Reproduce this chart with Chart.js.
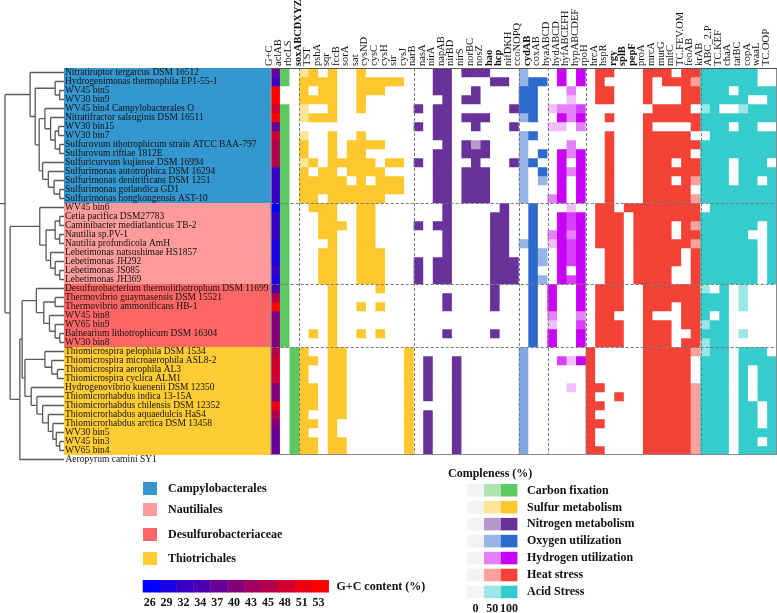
<!DOCTYPE html>
<html>
<head>
<meta charset="utf-8">
<script src="https://cdn.jsdelivr.net/npm/chart.js@4.4.0/dist/chart.umd.min.js"></script>
<style>
  html, body { margin: 0; padding: 0; background: #fff; }
  #wrap { width: 777px; height: 613px; position: relative; }
</style>
</head>
<body>
<div id="wrap"><canvas id="heat"></canvas></div>
<script>
// ---- data ----
const taxa = [
  'Nitratiruptor tergarcus DSM 16512', 'Hydrogenimonas thermophila EP1-55-1', 'WV45 bin5', 'WV30 bin9',
  'WV45 bin4 Campylobacterales O', 'Nitratifractor salsuginis DSM 16511', 'WV30 bin15', 'WV30 bin7',
  'Sulfurovum ithotrophicum strain ATCC BAA-797', 'Sulfurovum riftiae 1812E', 'Sulfuricurvum kujiense DSM 16994',
  'Sulfurimonas autotrophica DSM 16294', 'Sulfurimonas denitrificans DSM 1251', 'Sulfurimonas gotlandica GD1',
  'Sulfurimonas hongkongensis AST-10',
  'WV45 bin6', 'Cetia pacifica DSM27783', 'Caminibacter mediatlanticus TB-2', 'Nautilia sp.PV-1',
  'Nautilia profundicola AmH', 'Lebetimonas natsushimae HS1857', 'Lebetimonas JH292', 'Lebetimonas JS085',
  'Lebetimonas JH369',
  'Desulfurobacterium thermolithotrophum DSM 11699', 'Thermovibrio guaymasensis DSM 15521',
  'Thermovibrio ammonificans HB-1', 'WV45 bin8', 'WV65 bin9', 'Balnearium lithotrophicum DSM 16304', 'WV30 bin8',
  'Thiomicrospira pelophila DSM 1534', 'Thiomicrospira microaerophila ASL8-2', 'Thiomicrospira aerophila AL3',
  'Thiomicrospira cyclica ALM1', 'Hydrogenovibrio kuenenii DSM 12350', 'Thiomicrorhabdus indica 13-15A',
  'Thiomicrorhabdus chilensis DSM 12352', 'Thiomicrorhabdus aquaedulcis HaS4', 'Thiomicrorhabdus arctica DSM 13458',
  'WV30 bin5', 'WV45 bin3', 'WV65 bin4'
];
const outgroup = 'Aeropyrum camini SY1';

const groups = ['Campylobacterales', 'Nautiliales', 'Desulfurobacteriaceae', 'Thiotrichales'];
const groupSizes = [15, 9, 7, 12];

const gcContent = [37, 32, 53, 53, 48, 53, 37, 48, 45, 45, 45, 32, 32, 32, 32,
  26, 32, 32, 32, 29, 29, 29, 32, 29,
  34, 45, 53, 40, 40, 40, 40,
  45, 48, 48, 48, 40, 40, 51, 45, 40, 37, 37, 37];
const gcTicks = [26, 29, 32, 34, 37, 40, 43, 45, 48, 51, 53];

const carbonGenes = ['aclAB', 'rbcLS'];
const sulfurGenes = ['soxABCDXYZ', 'TST', 'pshA', 'sqr', 'fccB', 'sorA', 'sat', 'cysND', 'cysC', 'cysH', 'sir', 'cysJ'];
const nitrogenGenes = ['narB', 'nasA', 'nirA', 'napAB', 'nirBD', 'nirS', 'norBC', 'nosZ', 'hao', 'hcp', 'nifDKH'];
const oxygenGenes = ['ccoNOPQ', 'cydAB', 'coxAB'];
const hydrogenGenes = ['hyaABCD', 'hydABCD', 'hyfABCEFH', 'hypABCDEF'];
const heatGenes = ['rpoH', 'hrcA', 'hspR', 'rgy', 'splB', 'pepF', 'proA', 'mrcA', 'murG', 'mltC', 'TC.FEV.OM', 'feoAB'];
const acidGenes = ['krAB', 'ABC_2.P', 'TC.KEF', 'chaA', 'tatBC', 'copA', 'waaL', 'TC.OOP'];
const boldGenes = ['soxABCDXYZ', 'cydAB', 'hao', 'hcp', 'rgy', 'splB', 'pepF'];

// completeness (%) per taxon, one row per taxon
const carbonFixation = [
  [100,0],[100,0],[0,0],[0,0],[100,0],[100,0],[100,0],[100,0],[100,0],[100,0],[100,0],[100,0],[100,0],[100,0],[100,0],
  [100,0],[100,0],[100,0],[100,0],[100,0],[100,0],[100,0],[100,0],[100,0],
  [100,0],[100,0],[100,0],[100,0],[100,0],[100,0],[100,0],
  [0,100],[0,100],[0,100],[0,100],[0,100],[0,100],[0,100],[0,100],[0,100],[0,100],[0,100],[0,100]
];
const sulfurMetabolism = [
  [50,100,0,100,0,0,100,0,0,0,0,0],
  [100,100,100,100,0,0,100,100,100,100,100,0],
  [100,0,100,100,0,0,100,100,100,0,0,0],
  [100,100,100,100,0,0,100,0,0,0,0,0],
  [50,0,0,100,0,0,100,0,0,0,0,0],
  [50,100,100,100,0,0,0,0,0,0,0,0],
  [0,0,0,0,0,0,0,0,0,0,0,0],
  [50,0,0,100,0,0,100,0,0,0,0,0],
  [100,0,0,100,0,100,100,100,100,0,0,0],
  [100,0,0,100,0,100,100,0,0,0,0,0],
  [50,100,0,100,100,100,100,100,0,100,100,0],
  [100,0,100,100,0,100,100,100,100,0,0,0],
  [100,100,100,100,100,0,100,0,100,100,100,0],
  [100,100,100,100,100,100,100,100,100,100,100,0],
  [100,100,0,100,100,100,100,100,100,0,0,0],
  [0,100,100,100,0,0,100,100,0,0,0,0],
  [0,0,100,100,0,0,100,100,0,0,0,0],
  [0,0,100,100,100,0,100,100,0,0,0,0],
  [0,0,100,100,0,0,100,100,0,0,0,0],
  [0,0,0,100,0,0,100,100,0,0,0,0],
  [0,0,100,100,0,0,100,100,100,0,0,0],
  [0,0,100,100,0,0,100,100,100,0,0,0],
  [0,0,100,100,0,0,100,100,100,0,0,0],
  [0,0,100,100,0,0,100,100,100,0,0,0],
  [0,0,0,100,0,0,0,0,100,0,0,0],
  [0,0,0,100,0,0,0,0,0,0,0,0],
  [0,0,0,100,0,0,100,0,100,0,0,0],
  [0,0,0,100,0,0,0,0,0,0,0,0],
  [0,0,0,100,0,0,0,0,0,0,0,0],
  [0,100,0,100,0,0,100,0,100,0,0,0],
  [0,0,0,100,0,0,0,0,0,0,0,0],
  [100,0,0,100,100,0,0,0,0,0,0,100],
  [100,100,0,100,100,0,0,0,0,0,0,100],
  [100,0,0,100,100,0,0,0,0,0,0,100],
  [100,0,0,100,100,0,0,0,0,0,0,100],
  [100,100,0,100,100,0,0,0,0,0,0,100],
  [100,100,0,100,100,0,0,0,0,0,0,100],
  [100,100,0,100,100,0,0,0,0,0,0,100],
  [100,0,0,100,100,0,0,0,0,0,0,100],
  [100,100,0,100,0,0,0,0,0,0,0,100],
  [100,0,0,100,0,0,0,0,0,0,0,100],
  [100,100,0,100,100,0,0,0,0,0,0,100],
  [100,100,0,100,100,0,0,0,0,0,0,100]
];
const nitrogenMetabolism = [
  [0,0,100,100,0,100,100,100,0,0,0],
  [0,0,100,100,0,0,0,0,100,100,0],
  [0,0,100,100,0,0,100,0,0,0,0],
  [0,0,0,100,0,100,100,0,0,0,0],
  [100,0,100,100,0,0,0,0,0,0,100],
  [0,0,100,100,0,100,100,100,0,0,0],
  [100,0,100,100,0,0,100,0,0,0,100],
  [0,0,100,100,0,0,0,0,0,0,0],
  [0,0,0,100,0,100,50,100,0,0,0],
  [0,0,100,100,0,100,100,100,0,0,0],
  [100,0,100,100,0,0,100,0,0,0,100],
  [0,0,100,100,0,100,100,100,0,0,0],
  [0,0,100,100,0,100,100,100,0,0,0],
  [0,0,100,100,0,100,100,100,0,0,0],
  [0,0,100,100,0,100,100,100,0,0,0],
  [0,0,0,100,0,0,0,0,0,100,0],
  [0,0,0,100,0,0,0,0,100,100,0],
  [100,0,100,100,0,0,0,0,100,100,0],
  [0,0,0,100,0,0,0,0,100,100,0],
  [0,0,0,100,0,0,0,0,100,100,0],
  [0,0,0,100,0,0,0,0,100,100,0],
  [100,0,100,100,0,0,0,0,100,100,100],
  [100,0,100,100,0,0,0,0,100,100,100],
  [100,0,100,100,0,0,0,0,100,100,100],
  [0,0,0,0,0,0,0,0,100,0,0],
  [0,0,0,100,0,0,0,0,100,0,0],
  [0,0,0,100,0,0,0,0,100,0,0],
  [0,0,0,0,0,0,0,0,0,0,0],
  [0,0,0,0,0,0,0,0,0,0,0],
  [0,0,0,100,0,0,0,0,100,0,0],
  [0,0,0,0,0,0,0,0,0,0,0],
  [0,0,0,0,0,0,0,0,0,0,0],
  [0,100,0,0,100,0,0,0,0,0,0],
  [0,100,0,0,100,0,0,0,0,0,0],
  [0,100,0,0,100,0,0,0,0,0,0],
  [0,100,0,0,100,0,0,0,0,0,0],
  [0,100,0,0,100,0,0,0,0,0,0],
  [0,0,0,0,100,0,0,0,0,0,0],
  [0,100,0,0,100,0,0,0,0,0,0],
  [0,100,0,0,100,0,0,0,0,0,0],
  [0,100,0,0,100,0,0,0,0,0,0],
  [0,100,0,0,100,0,0,0,0,0,0],
  [0,100,0,0,100,0,0,0,0,0,0]
];
const oxygenUtilization = [
  [50,0,0],[50,100,100],[100,100,0],[100,100,0],[100,100,0],[50,100,0],[0,0,0],[50,100,0],
  [50,0,0],[50,0,100],[50,100,0],[50,0,100],[50,0,50],[50,0,0],[50,0,0],
  [0,100,0],[0,100,0],[0,100,0],[0,100,0],[50,100,0],[0,100,50],[0,100,50],[0,100,0],[0,100,50],
  [0,100,0],[0,100,0],[0,100,0],[0,100,0],[0,100,0],[0,100,0],[0,100,0],
  [60,0,0],[60,0,0],[60,0,0],[60,0,0],[60,0,0],[60,0,0],[60,0,0],[60,0,0],[60,0,0],[60,0,0],[60,0,0],[60,0,0]
];
const hydrogenUtilization = [
  [0,100,0,100],[0,100,0,100],[0,0,50,0],[0,0,25,0],[25,50,50,75],[0,100,50,100],[25,25,0,50],[0,0,0,0],
  [0,0,50,0],[0,100,50,100],[0,100,0,100],[0,100,50,100],[0,100,0,100],[0,100,0,100],[50,100,0,100],
  [0,0,25,0],[0,100,75,100],[0,100,75,100],[50,100,50,100],[25,100,75,100],[0,100,75,100],[0,100,75,100],
  [0,100,0,100],[0,100,75,100],
  [100,0,0,100],[100,0,0,100],[100,0,0,100],[50,0,0,50],[25,0,0,75],[100,0,0,100],[100,0,0,100],
  [0,0,0,0],[0,75,25,100],[0,0,0,0],[0,0,0,0],[0,0,25,0],[0,0,0,0],[0,0,0,0],[0,0,0,0],[0,0,0,0],
  [0,0,0,0],[0,0,0,0],[0,0,0,0]
];
const heatStress = [
  [0,100,100,0,0,0,100,100,100,0,100,100],
  [0,100,0,0,0,0,100,0,100,100,100,50],
  [0,100,100,0,0,0,100,0,0,0,100,100],
  [0,100,100,0,0,0,100,0,0,0,100,100],
  [0,0,0,0,0,0,0,100,100,100,100,0],
  [0,0,100,0,0,0,100,100,100,100,100,100],
  [0,0,0,0,0,0,100,0,0,0,0,100],
  [0,0,100,0,0,0,100,100,100,100,100,0],
  [0,0,100,0,0,0,100,100,100,100,100,100],
  [0,0,100,0,0,0,100,100,100,100,100,0],
  [0,0,100,0,0,0,100,100,100,0,100,100],
  [0,0,100,0,0,0,100,100,100,100,100,100],
  [0,0,100,0,0,0,100,100,100,0,100,50],
  [0,0,100,0,0,0,100,100,100,100,100,0],
  [0,0,100,0,0,0,100,100,100,100,100,50],
  [0,100,100,0,100,100,100,100,100,100,100,100],
  [0,100,100,100,0,100,100,100,100,100,100,100],
  [0,100,100,100,0,100,100,100,100,0,100,50],
  [0,100,100,100,0,100,100,100,100,0,100,100],
  [0,100,100,100,0,100,100,100,100,100,100,50],
  [0,0,100,100,0,100,100,100,100,100,0,100],
  [0,0,100,100,0,100,100,100,100,100,0,100],
  [0,0,100,100,0,100,100,100,100,0,0,100],
  [0,0,100,100,0,100,100,100,100,0,0,100],
  [0,100,100,100,0,0,100,100,100,100,100,100],
  [0,100,100,100,0,0,100,100,100,100,100,100],
  [0,100,100,100,0,0,100,100,100,0,100,100],
  [0,100,100,0,0,0,100,0,0,0,100,100],
  [0,100,100,100,0,0,100,100,100,0,100,100],
  [0,100,100,100,0,0,100,100,100,0,0,100],
  [0,100,100,100,0,0,100,100,100,0,100,100],
  [100,0,0,0,0,0,100,100,100,100,100,50],
  [100,0,0,0,0,0,100,100,100,100,100,0],
  [100,0,0,0,0,0,100,100,100,100,100,0],
  [100,0,0,0,0,0,100,100,100,100,100,0],
  [100,100,0,0,0,0,100,100,100,100,100,50],
  [100,0,0,100,0,0,100,100,100,100,100,50],
  [100,100,0,0,0,0,100,100,100,100,100,50],
  [100,0,0,0,0,0,100,100,100,100,100,50],
  [100,100,0,0,0,0,100,100,100,100,100,50],
  [100,0,0,0,0,0,100,100,100,100,100,50],
  [100,0,0,0,0,0,100,100,100,100,100,50],
  [100,100,0,0,0,0,100,100,100,100,100,50]
];
const acidStress = [
  [100,100,100,100,100,100,0,0],
  [100,100,100,100,100,100,0,0],
  [100,100,100,0,100,100,100,100],
  [100,100,100,100,100,0,0,100],
  [50,100,0,0,50,100,100,100],
  [100,100,100,100,100,100,100,100],
  [100,100,100,0,100,100,0,0],
  [0,100,100,100,100,100,100,100],
  [100,100,100,100,100,100,100,100],
  [100,100,100,100,100,100,100,100],
  [100,100,100,0,100,100,100,0],
  [100,100,100,0,100,100,100,100],
  [100,100,100,0,100,100,0,100],
  [100,100,100,100,100,100,100,100],
  [100,100,100,100,100,100,100,100],
  [0,100,100,100,100,100,100,100],
  [100,100,100,100,100,100,100,100],
  [100,100,100,100,100,100,0,100],
  [100,100,100,100,100,0,0,100],
  [100,100,100,100,100,100,0,100],
  [100,100,100,100,100,100,0,100],
  [100,100,100,100,100,100,0,100],
  [100,100,100,100,100,100,0,100],
  [100,100,100,100,100,100,0,100],
  [50,0,100,0,50,0,0,0],
  [100,100,100,0,50,0,0,0],
  [100,100,100,0,50,0,0,0],
  [100,0,100,0,0,0,0,0],
  [50,100,100,0,0,0,0,0],
  [100,100,100,0,50,0,0,0],
  [50,100,100,0,0,0,0,0],
  [50,100,100,0,100,100,100,0],
  [100,100,100,0,100,100,100,100],
  [100,100,100,0,100,0,100,100],
  [100,100,100,0,100,0,100,100],
  [100,100,100,0,100,0,100,100],
  [100,100,100,0,100,0,100,100],
  [100,100,100,0,100,100,0,100],
  [100,100,100,0,100,100,0,100],
  [100,100,100,0,100,100,0,100],
  [100,100,100,0,100,100,100,100],
  [100,100,100,0,100,100,0,100],
  [100,100,100,0,100,100,100,100]
];

// tree: [branch depth, ...children]; leaves are taxon indices (43 = outgroup)
const tree = [0,
  [44, 0, [53, [88, 1, [96, 2, 3]],
               [60, [70, 4, [80, 5, [88, [94, 6, 7], [96, 8, 9]]]], [66, 10, [76, 11, [86, 12, [96, 13, 14]]]]]]],
  [9, [61, 15, [72, [88, [96, 16, 17], [96, 18, 19]], [80, 20, [88, 21, [96, 22, 23]]]]],
      [26, [30, [55, 24, [68, [88, 25, 26], [78, 27, [88, 28, [96, 29, 30]]]]],
                [35, [70, 31, [82, 32, [92, 33, 34]]], [46, 35, [56, 36, [66, 37, [76, 38, [84, 39, [90, 40, [96, 41, 42]]]]]]]]],
           43]]
];

// ---- styles ----
const groupColors = ['#3497d0', '#ff9b9b', '#ff6767', '#ffcc33'];
const categories = [
  { name: 'Carbon fixation', genes: carbonGenes, values: carbonFixation, rgb: [94, 200, 98] },
  { name: 'Sulfur metabolism', genes: sulfurGenes, values: sulfurMetabolism, rgb: [253, 200, 46] },
  { name: 'Nitrogen metabolism', genes: nitrogenGenes, values: nitrogenMetabolism, rgb: [105, 50, 155] },
  { name: 'Oxygen utilization', genes: oxygenGenes, values: oxygenUtilization, rgb: [45, 106, 205] },
  { name: 'Hydrogen utilization', genes: hydrogenGenes, values: hydrogenUtilization, rgb: [200, 0, 245] },
  { name: 'Heat stress', genes: heatGenes, values: heatStress, rgb: [244, 66, 54] },
  { name: 'Acid Stress', genes: acidGenes, values: acidStress, rgb: [54, 204, 204] }
];
const FONT = '"Liberation Serif", "Times New Roman", serif';

function mix(rgb, v) {
  const t = v / 100;
  const c = rgb.map(k => Math.round(255 + (k - 255) * t));
  return `rgb(${c[0]},${c[1]},${c[2]})`;
}
function gcColor(v) {
  const t = Math.max(0, Math.min(1, (v - 26) / 27));
  return `rgb(${Math.round(255 * t)},0,${Math.round(255 * (1 - t))})`;
}

const columns = ['G+C'];
categories.forEach(c => columns.push(...c.genes));

const datasets = taxa.map((name, r) => {
  const colors = [gcColor(gcContent[r])];
  categories.forEach(c => c.values[r].forEach(v => colors.push(v > 0 ? mix(c.rgb, v) : '#ffffff')));
  return {
    label: name,
    data: columns.map(() => 1),
    backgroundColor: colors,
    borderWidth: 0,
    barPercentage: 1,
    categoryPercentage: 1,
    stack: 'cells'
  };
});

// column indices (left edges) where a dashed separator is drawn
const colBreaks = [3];
let acc = 1 + carbonGenes.length;
categories.slice(1, -1).forEach(c => { acc += c.genes.length; colBreaks.push(acc); });

const decor = {
  id: 'decor',
  beforeDraw(chart) {
    const { ctx, chartArea: a, scales: { y } } = chart;
    ctx.save();
    ctx.fillStyle = '#fff';
    ctx.fillRect(0, 0, chart.width, chart.height);
    // clade boxes behind taxon names
    let start = 0;
    groupSizes.forEach((n, g) => {
      const y0 = y.getPixelForValue(start), y1 = y.getPixelForValue(start + n);
      ctx.fillStyle = groupColors[g];
      ctx.fillRect(64, y0, a.left - 64, y1 - y0);
      start += n;
    });
    // tree
    const leafX = 64, x0 = 5, x1 = 62;
    const tx = d => x0 + (x1 - x0) * d / 100;
    ctx.strokeStyle = '#5a5a5a';
    ctx.lineWidth = 1.3;
    ctx.beginPath();
    const walk = node => {
      if (typeof node === 'number') return { x: leafX, y: y.getPixelForValue(node + 0.5) };
      const [d, ...kids] = node;
      const nx = tx(d);
      const pts = kids.map(walk);
      ctx.moveTo(nx, pts[0].y);
      ctx.lineTo(nx, pts[pts.length - 1].y);
      pts.forEach(p => { ctx.moveTo(nx, p.y); ctx.lineTo(p.x, p.y); });
      return { x: nx, y: (pts[0].y + pts[pts.length - 1].y) / 2 };
    };
    const root = walk(tree);
    ctx.moveTo(root.x, root.y);
    ctx.lineTo(root.x - 5, root.y);
    ctx.stroke();
    // outgroup name
    ctx.fillStyle = '#111';
    ctx.font = `9.5px ${FONT}`;
    ctx.textBaseline = 'middle';
    ctx.fillText(outgroup, 65.5, y.getPixelForValue(43.5));
    ctx.restore();
  },
  afterDatasetsDraw(chart) {
    const { ctx, chartArea: a, scales: { x, y } } = chart;
    const cw = (a.right - a.left) / columns.length;
    ctx.save();
    ctx.strokeStyle = '#7a7a7a';
    ctx.lineWidth = 1;
    ctx.setLineDash([3, 2]);
    ctx.beginPath();
    colBreaks.forEach(i => {
      const px = Math.round(x.getPixelForValue(i) - cw / 2) + 0.5;
      ctx.moveTo(px, a.top); ctx.lineTo(px, a.bottom);
    });
    let s = 0;
    groupSizes.slice(0, -1).forEach(n => {
      s += n;
      const py = Math.round(y.getPixelForValue(s)) + 0.5;
      ctx.moveTo(a.left, py); ctx.lineTo(a.right, py);
    });
    ctx.stroke();
    ctx.setLineDash([]);
    ctx.strokeStyle = '#8a8a8a';
    ctx.strokeRect(a.left + 0.5, a.top + 0.5, a.right - a.left - 1, a.bottom - a.top - 1);
    ctx.strokeStyle = '#555';
    ctx.beginPath();
    ctx.moveTo(a.left, a.top + 0.5); ctx.lineTo(a.right, a.top + 0.5);
    ctx.stroke();
    ctx.restore();
  },
  afterDraw(chart) {
    const { ctx } = chart;
    ctx.save();
    ctx.textBaseline = 'middle';
    ctx.font = `bold 12px ${FONT}`;
    // clade legend
    groups.forEach((g, i) => {
      const yy = [482, 503, 528, 552][i];
      ctx.fillStyle = groupColors[i];
      ctx.fillRect(143, yy, 14, 13);
      ctx.fillStyle = '#111';
      ctx.fillText(g, 168, yy + 6.5);
    });
    // G+C colour bar
    const segW = (328.5 - 142.7) / gcTicks.length;
    gcTicks.forEach((v, i) => {
      ctx.fillStyle = gcColor(v);
      ctx.fillRect(142.7 + i * segW, 580, segW + 0.4, 12.5);
      ctx.fillStyle = '#111';
      ctx.textAlign = 'center';
      ctx.fillText(String(v), 142.7 + (i + 0.5) * segW - 1.5, 603);
    });
    ctx.textAlign = 'left';
    ctx.fillText('G+C content (%)', 336.5, 586.5);
    // completeness legend
    ctx.fillText('Compleness (%)', 448, 473.5);
    const levels = [0, 50, 100];
    categories.forEach((c, i) => {
      const yy = 484 + i * 16.95;
      levels.forEach((lv, j) => {
        ctx.fillStyle = lv === 0 ? '#f2f3f3' : mix(c.rgb, lv);
        ctx.fillRect(467.3 + j * 16.7, yy, 16.7, 12.5);
      });
      ctx.fillStyle = '#111';
      ctx.fillText(c.name, 527, yy + 6.5);
    });
    ctx.textAlign = 'center';
    levels.forEach((lv, j) => ctx.fillText(String(lv), 475.6 + j * 16.7, 609));
    ctx.restore();
  }
};

new Chart(document.getElementById('heat'), {
  type: 'bar',
  data: { labels: columns, datasets },
  options: {
    responsive: true,
    maintainAspectRatio: false,
    animation: false,
    events: [],
    layout: { padding: { left: 65, right: 0, top: 0, bottom: 158 } },
    plugins: { legend: { display: false }, tooltip: { enabled: false } },
    scales: {
      x: {
        position: 'top',
        stacked: true,
        offset: true,
        grid: { display: false, drawTicks: false },
        border: { display: false },
        ticks: {
          autoSkip: false,
          minRotation: 90,
          maxRotation: 90,
          padding: 2,
          labelOffset: 6.3,
          color: '#111',
          font: ctx => ({ family: FONT, size: 10.5, weight: boldGenes.includes(columns[ctx.index]) ? 'bold' : 'normal' })
        },
        afterFit: s => { s.height = 68; }
      },
      y: {
        stacked: true,
        reverse: true,
        min: 0,
        max: taxa.length,
        grid: { display: false, drawTicks: false },
        border: { display: false },
        afterBuildTicks: s => { s.ticks = taxa.map((t, i) => ({ value: i + 0.5 })); },
        ticks: {
          autoSkip: false,
          crossAlign: 'far',
          padding: 0,
          color: '#111',
          font: { family: FONT, size: 9.5 },
          callback: (v, i) => taxa[i]
        },
        afterFit: s => { s.width = 205.7; }
      }
    }
  },
  plugins: [decor]
});
</script>
</body>
</html>
